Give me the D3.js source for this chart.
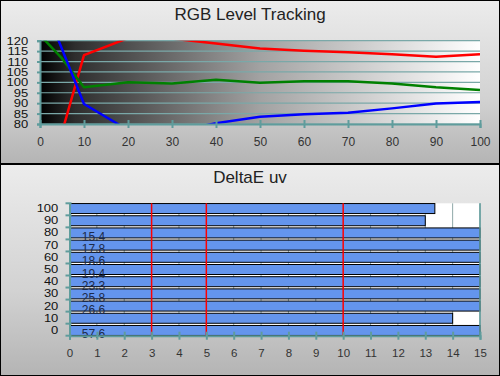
<!DOCTYPE html>
<html>
<head>
<meta charset="utf-8">
<script src="https://cdn.jsdelivr.net/npm/d3@7"></script>
<style>
  body { margin: 0; background: #fff; }
  svg { display: block; font-family: Arial, "Liberation Sans", sans-serif; }
</style>
</head>
<body>
<svg id="chart" width="500" height="376"></svg>
<script>
// RGB level tracking data (stimulus %, level)
const levels = [0, 5, 10, 20, 30, 40, 50, 60, 70, 80, 90, 100];
const redValues = [40, 76, 113.1, 121.2, 121, 118.7, 116.3, 115.2, 114.4, 113.5, 112.3, 113.5];
const greenValues = [122.7, 111.5, 97.6, 100, 99.4, 101.3, 99.8, 100.5, 100.5, 99.5, 97.6, 96.3];
const blueValues = [142, 116, 89.6, 77.1, 76, 80.4, 83.5, 84.7, 85.4, 87.5, 89.9, 90.6];
const rgbYTicks = [120, 115, 110, 105, 100, 95, 90, 85, 80];
const rgbXTicks = [0, 10, 20, 30, 40, 50, 60, 70, 80, 90, 100];

// DeltaE uv data
const deCategories = ["100", "90", "80", "70", "60", "50", "40", "30", "20", "10", "0"];
const deValues = [13.35, 13.0, 15.4, 17.8, 18.6, 19.4, 23.3, 25.8, 26.6, 14.0, 57.6];
const deRefLines = [3, 5, 10];
const deXTicks = d3.range(0, 16);

const svg = d3.select("#chart");
const defs = svg.append("defs");
const fontFam = "Arial, 'Liberation Sans', sans-serif";

const panelGrad = defs.append("linearGradient").attr("id", "panelGrad")
  .attr("x1", 0).attr("y1", 0).attr("x2", 0).attr("y2", 1);
panelGrad.append("stop").attr("offset", "0%").attr("stop-color", "#ececec");
panelGrad.append("stop").attr("offset", "60%").attr("stop-color", "#d2d2d2");
panelGrad.append("stop").attr("offset", "100%").attr("stop-color", "#b4b4b4");

const plotGrad = defs.append("linearGradient").attr("id", "plotGrad")
  .attr("x1", 0).attr("y1", 0).attr("x2", 1).attr("y2", 0);
plotGrad.append("stop").attr("offset", "0%").attr("stop-color", "#000");
plotGrad.append("stop").attr("offset", "8%").attr("stop-color", "#2e2e2e");
plotGrad.append("stop").attr("offset", "50%").attr("stop-color", "#a2a2a2");
plotGrad.append("stop").attr("offset", "100%").attr("stop-color", "#fff");

const axisColor = "#5f9c9c";
const gridColor = "#7aa8a8";

// panels
svg.append("rect").attr("x", 0.5).attr("y", 0.5).attr("width", 499).attr("height", 163)
  .attr("fill", "url(#panelGrad)").attr("stroke", "#000");
svg.append("rect").attr("x", 0.5).attr("y", 164.5).attr("width", 499).attr("height", 211)
  .attr("fill", "url(#panelGrad)").attr("stroke", "#000");

// ---------- top chart ----------
const m1 = {left: 40, right: 480, top: 40.7, bottom: 124};
const x1 = d3.scaleLinear().domain([0, 100]).range([m1.left, m1.right]);
const y1 = d3.scaleLinear().domain([80, 120]).range([m1.bottom, m1.top]);

svg.append("text").attr("x", 250).attr("y", 20).attr("text-anchor", "middle")
  .attr("font-size", 17).attr("fill", "#222").text("RGB Level Tracking");

svg.append("rect").attr("x", m1.left).attr("y", m1.top)
  .attr("width", m1.right - m1.left).attr("height", m1.bottom - m1.top)
  .attr("fill", "url(#plotGrad)");

defs.append("clipPath").attr("id", "clipTop").append("rect")
  .attr("x", m1.left).attr("y", m1.top)
  .attr("width", m1.right - m1.left).attr("height", m1.bottom - m1.top);

svg.append("g").selectAll("line").data(rgbYTicks).join("line")
  .attr("x1", m1.left).attr("x2", m1.right)
  .attr("y1", d => y1(d)).attr("y2", d => y1(d))
  .attr("stroke", gridColor).attr("stroke-width", 1.2);

const lineGen = d3.line().x((d, i) => x1(levels[i])).y(d => y1(d));
const series = [
  {vals: redValues, color: "#ff0000"},
  {vals: greenValues, color: "#008000"},
  {vals: blueValues, color: "#0000ff"}
];
svg.append("g").attr("clip-path", "url(#clipTop)").selectAll("path").data(series).join("path")
  .attr("d", d => lineGen(d.vals))
  .attr("fill", "none").attr("stroke", d => d.color).attr("stroke-width", 2.5)
  .attr("stroke-linejoin", "round");

const yAxis1 = svg.append("g").attr("transform", `translate(${m1.left},0)`)
  .call(d3.axisLeft(y1).tickValues(rgbYTicks).tickSize(3).tickPadding(7));
const xAxis1 = svg.append("g").attr("transform", `translate(0,${m1.bottom})`)
  .call(d3.axisBottom(x1).tickValues(rgbXTicks).tickSize(4).tickPadding(9));
[yAxis1, xAxis1].forEach(a => {
  a.select(".domain").attr("stroke", axisColor).attr("stroke-width", 2);
  a.selectAll(".tick line").attr("stroke", axisColor).attr("stroke-width", 2);
});
xAxis1.selectAll(".tick line").attr("y1", -4);
yAxis1.selectAll(".tick text").attr("font-size", 11).attr("fill", "#111").attr("font-family", fontFam)
  .attr("transform", "scale(1.18,1)");
xAxis1.selectAll(".tick text").attr("font-size", 12).attr("fill", "#333").attr("font-family", fontFam);

// ---------- bottom chart ----------
const m2 = {left: 69.5, right: 480, top: 203.3, bottom: 335.7};
const x2 = d3.scaleLinear().domain([0, 15]).range([m2.left, m2.right]);
const y2 = d3.scaleBand().domain(deCategories).range([m2.top, m2.bottom]).paddingInner(0.18).paddingOuter(0.02);

svg.append("text").attr("x", 250).attr("y", 183).attr("text-anchor", "middle")
  .attr("font-size", 17).attr("fill", "#222").text("DeltaE uv");

svg.append("rect").attr("x", m2.left).attr("y", m2.top)
  .attr("width", m2.right - m2.left).attr("height", m2.bottom - m2.top)
  .attr("fill", "#fff");

svg.append("g").selectAll("line").data(deXTicks.slice(1)).join("line")
  .attr("x1", d => x2(d)).attr("x2", d => x2(d))
  .attr("y1", m2.top).attr("y2", m2.bottom)
  .attr("stroke", "#8fa8a8").attr("stroke-width", 1);

svg.append("g").selectAll("rect").data(deValues).join("rect")
  .attr("x", m2.left)
  .attr("y", (d, i) => y2(deCategories[i]))
  .attr("width", d => x2(Math.min(d, 15)) - m2.left)
  .attr("height", y2.bandwidth())
  .attr("fill", "#6495ed").attr("stroke", "#000").attr("stroke-width", 1);

svg.append("g").selectAll("line").data(deRefLines).join("line")
  .attr("x1", d => x2(d)).attr("x2", d => x2(d))
  .attr("y1", m2.top).attr("y2", m2.bottom)
  .attr("stroke", "#ff0000").attr("stroke-width", 1.5);

// value labels for bars that run off the scale
const labelG = svg.append("g");
deValues.forEach((v, i) => {
  if (v > 15) {
    labelG.append("text")
      .attr("x", x2(0.45))
      .attr("y", y2(deCategories[i]) + y2.bandwidth() / 2 + 8)
      .attr("font-size", 12).attr("fill", "#1c2a4a").attr("font-family", fontFam)
      .text(v.toFixed(1));
  }
});

svg.append("line").attr("x1", m2.right).attr("x2", m2.right)
  .attr("y1", m2.top).attr("y2", m2.bottom).attr("stroke", axisColor).attr("stroke-width", 1.5);

const yAxis2 = svg.append("g").attr("transform", `translate(${m2.left},0)`)
  .call(d3.axisLeft(y2).tickSize(0).tickPadding(9.5));
// band boundary ticks
svg.append("g").selectAll("line").data(d3.range(deCategories.length + 1)).join("line")
  .attr("x1", m2.left - 4).attr("x2", m2.left + 2)
  .attr("y1", d => m2.top + d * (m2.bottom - m2.top) / deCategories.length)
  .attr("y2", d => m2.top + d * (m2.bottom - m2.top) / deCategories.length)
  .attr("stroke", axisColor).attr("stroke-width", 2);
const xAxis2 = svg.append("g").attr("transform", `translate(0,${m2.bottom})`)
  .call(d3.axisBottom(x2).tickValues(deXTicks).tickSize(4).tickPadding(9));
[yAxis2, xAxis2].forEach(a => {
  a.select(".domain").attr("stroke", axisColor).attr("stroke-width", 2);
  a.selectAll(".tick line").attr("stroke", axisColor).attr("stroke-width", 2);
});
xAxis2.selectAll(".tick line").attr("y1", -4);
yAxis2.selectAll(".tick text").attr("font-size", 11).attr("fill", "#111").attr("font-family", fontFam)
  .attr("transform", "scale(1.18,1)");
xAxis2.selectAll(".tick text").attr("font-size", 11.5).attr("fill", "#333").attr("font-family", fontFam);
</script>
</body>
</html>
